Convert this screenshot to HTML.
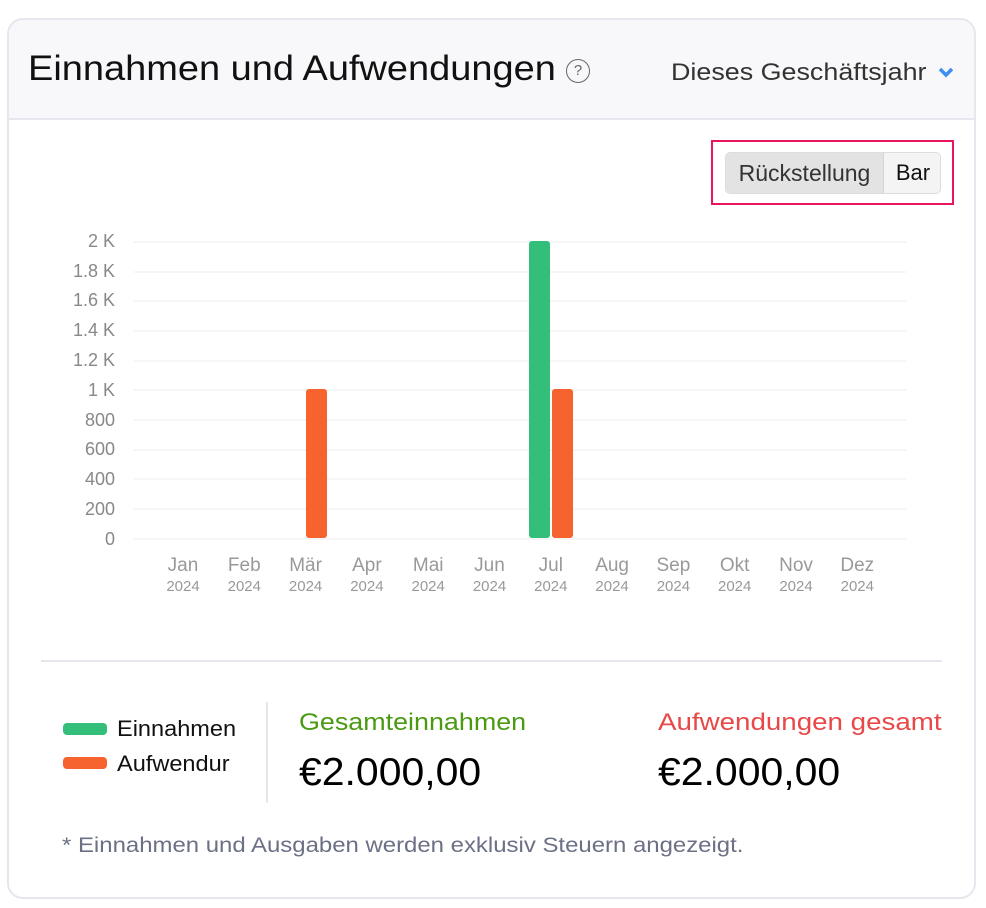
<!DOCTYPE html>
<html><head><meta charset="utf-8"><style>
*{margin:0;padding:0;box-sizing:border-box}
body{width:986px;height:908px;background:#fff;font-family:"Liberation Sans",sans-serif;position:relative;overflow:hidden}
.a{position:absolute;white-space:nowrap;transform-origin:0 0}
.card{position:absolute;left:7px;top:18px;width:969px;height:881px;border:2px solid #e6e6ee;border-radius:16px;overflow:hidden}
.hdr{position:absolute;left:0;top:0;width:100%;height:100px;background:#f8f8fa;border-bottom:2px solid #e6e6ee}
.yl{position:absolute;right:871px;font-size:18px;color:#888;line-height:20px}
.ml{position:absolute;width:60px;text-align:center;color:#999;line-height:20px}
</style></head><body>
<div class="card"><div class="hdr"></div></div>
<div class="a" style="left:28px;top:49px;font-size:35px;line-height:40px;color:#111;transform:scaleX(1.085)">Einnahmen und Aufwendungen</div>
<div class="a" style="left:566px;top:59px;width:24px;height:24px;border:1.5px solid #666;border-radius:50%;font-size:15px;line-height:21px;text-align:center;color:#666">?</div>
<div class="a" style="left:671px;top:58px;font-size:24px;line-height:30px;color:#333;transform:scaleX(1.12)">Dieses Geschäftsjahr</div>
<svg class="a" style="left:937px;top:66px" width="18" height="12"><path d="M3 3 L9 9 L15 3" stroke="#3d8ef0" stroke-width="3.5" fill="none"/></svg>
<div class="a" style="left:711px;top:140px;width:243px;height:65px;border:2px solid #e8175d"></div>
<div class="a" style="left:725px;top:152px;width:216px;height:42px;border:1.5px solid #ddd;border-radius:5px;background:#f4f4f4;overflow:hidden">
<div style="position:absolute;left:0;top:0;width:158px;height:100%;background:#e3e3e3;border-right:1.5px solid #d4d4d4;font-size:23px;line-height:40px;text-align:center;color:#333">Rückstellung</div>
<div style="position:absolute;left:158px;top:0;width:58px;height:100%;font-size:22px;line-height:40px;text-align:center;color:#111">Bar</div></div>
<svg class="a" style="left:0;top:0" width="986" height="620">
<g stroke="#f3f3f3" stroke-width="1.5">
<line x1="134" x2="906" y1="242" y2="242"/><line x1="134" x2="906" y1="272" y2="272"/><line x1="134" x2="906" y1="301" y2="301"/><line x1="134" x2="906" y1="331" y2="331"/><line x1="134" x2="906" y1="361" y2="361"/><line x1="134" x2="906" y1="390" y2="390"/><line x1="134" x2="906" y1="420" y2="420"/><line x1="134" x2="906" y1="450" y2="450"/><line x1="134" x2="906" y1="479" y2="479"/><line x1="134" x2="906" y1="509" y2="509"/><line x1="134" x2="906" y1="539" y2="539"/>
</g>
<rect x="306" y="389" width="21" height="149" rx="3" fill="#f7632f"/>
<rect x="529" y="241" width="21" height="297" rx="3" fill="#33bf7a"/>
<rect x="552" y="389" width="21" height="149" rx="3" fill="#f7632f"/>
</svg>
<div class="yl" style="top:231px">2 K</div><div class="yl" style="top:261px">1.8 K</div><div class="yl" style="top:290px">1.6 K</div><div class="yl" style="top:320px">1.4 K</div><div class="yl" style="top:350px">1.2 K</div><div class="yl" style="top:380px">1 K</div><div class="yl" style="top:410px">800</div><div class="yl" style="top:439px">600</div><div class="yl" style="top:469px">400</div><div class="yl" style="top:499px">200</div><div class="yl" style="top:529px">0</div>
<div id="m"></div>
<script>
var n=["Jan","Feb","Mär","Apr","Mai","Jun","Jul","Aug","Sep","Okt","Nov","Dez"],h="";
for(var i=0;i<12;i++){var c=183+i*61.3;h+='<div class="ml" style="left:'+(c-30)+'px;top:556px;font-size:19px">'+n[i]+'</div><div class="ml" style="left:'+(c-30)+'px;top:577px;font-size:15px">2024</div>';}
document.getElementById("m").innerHTML=h;
</script>
<div class="a" style="left:41px;top:660px;width:901px;height:2px;background:#e6e6ee"></div>
<div class="a" style="left:63px;top:723px;width:44px;height:12px;border-radius:4px;background:#33bf7a"></div>
<div class="a" style="left:63px;top:757px;width:44px;height:12px;border-radius:4px;background:#f7632f"></div>
<div class="a" style="left:117px;top:715px;font-size:22px;line-height:28px;color:#111;transform:scaleX(1.07)">Einnahmen</div>
<div class="a" style="left:117px;top:750px;font-size:22px;line-height:28px;color:#111;transform:scaleX(1.07)">Aufwendur</div>
<div class="a" style="left:266px;top:702px;width:2px;height:101px;background:#e6e6ee"></div>
<div class="a" style="left:299px;top:708px;font-size:24px;line-height:30px;color:#4a9a12;transform:scaleX(1.12)">Gesamteinnahmen</div>
<div class="a" style="left:299px;top:751px;font-size:39px;line-height:44px;color:#000;transform:scaleX(1.05)">€2.000,00</div>
<div class="a" style="left:658px;top:708px;font-size:24px;line-height:30px;color:#e84848;transform:scaleX(1.155)">Aufwendungen gesamt</div>
<div class="a" style="left:658px;top:751px;font-size:39px;line-height:44px;color:#000;transform:scaleX(1.05)">€2.000,00</div>
<div class="a" style="left:62px;top:833px;font-size:21px;line-height:26px;color:#6b7085;transform:scaleX(1.14)">* Einnahmen und Ausgaben werden exklusiv Steuern angezeigt.</div>
</body></html>
